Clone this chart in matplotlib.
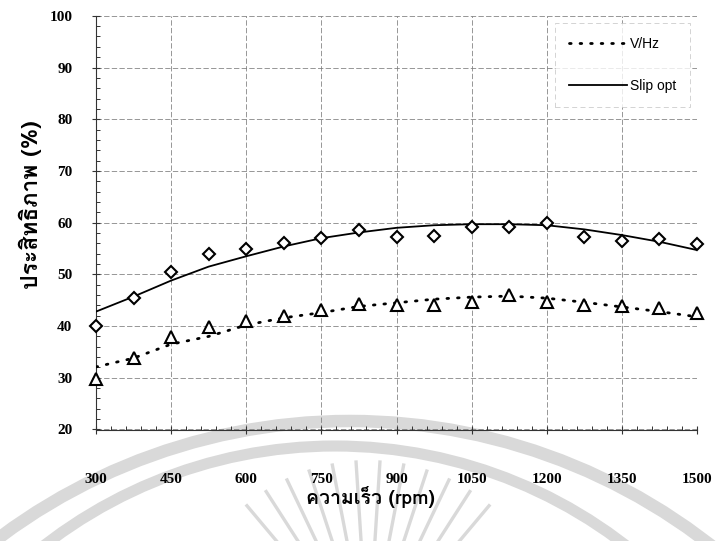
import matplotlib
matplotlib.use("Agg")
import matplotlib.pyplot as plt
import matplotlib.font_manager as fm
import matplotlib.transforms as mtransforms
from matplotlib.patches import Circle
from matplotlib.lines import Line2D
from matplotlib.ticker import MultipleLocator
from matplotlib.ft2font import FT2Font
import numpy as np

# ---- data -------------------------------------------------------------
rpm = [300, 375, 450, 525, 600, 675, 750, 825, 900,
       975, 1050, 1125, 1200, 1275, 1350, 1425, 1500]

# measured efficiency (%)
slip_eff = [40.0, 45.4, 50.5, 53.9, 54.9, 56.0, 57.1, 58.5, 57.3,
            57.5, 59.2, 59.1, 60.0, 57.2, 56.5, 56.8, 55.9]
vhz_eff = [29.8, 33.9, 37.8, 39.9, 40.9, 41.9, 43.1, 44.2, 44.0,
           44.1, 44.7, 46.0, 44.7, 44.1, 43.9, 43.4, 42.6]

# trend curves (%)
slip_trend = [42.8, 45.7, 48.8, 51.5, 53.5, 55.4, 57.0, 58.1, 59.0,
              59.5, 59.7, 59.7, 59.5, 58.7, 57.6, 56.3, 54.7]
vhz_trend = [32.1, 33.8, 36.5, 38.0, 40.2, 41.6, 42.6, 43.8, 44.5,
             45.2, 45.6, 45.8, 45.4, 44.6, 43.7, 42.8, 41.8]

x_ticks = [300, 450, 600, 750, 900, 1050, 1200, 1350, 1500]
y_ticks = [20, 30, 40, 50, 60, 70, 80, 90, 100]
series_names = ["V/Hz", "Slip opt"]
x_title = "ความเร็ว (rpm)"
y_title = "ประสิทธิภาพ (%)"


# ---- fonts ------------------------------------------------------------
def thai_family():
    best = None
    for f in fm.fontManager.ttflist:
        try:
            if 0x0E04 in FT2Font(f.fname).get_charmap():
                if str(f.weight) in ("bold", "700"):
                    return f.name
                best = best or f.name
        except Exception:
            continue
    return best


thai = thai_family()
thai_fams = ([thai] if thai else []) + ["Liberation Serif", "DejaVu Sans"]

W, H = 717, 541
fig = plt.figure(figsize=(W / 100, H / 100), dpi=100)
fig.patch.set_facecolor("white")

# pixel -> figure transform (origin top-left)
px = mtransforms.Affine2D().scale(1 / W, -1 / H).translate(0, 1) + fig.transFigure

# ---- light background emblem -----------------------------------------
wm = "#d9d9d9"
fig.patches.append(Circle((350, 1007), 586, fill=False, lw=9.0, ec=wm,
                          transform=px, zorder=0))
fig.patches.append(Circle((335, 921), 475, fill=False, lw=8.0, ec=wm,
                          transform=px, zorder=0))
cx, cy = 368, 650
for ang in np.linspace(50, 130, 12):
    a = np.deg2rad(ang)
    r0, r1 = 95, 190
    fig.lines.append(Line2D([cx + r0 * np.cos(a), cx + r1 * np.cos(a)],
                            [cy - r0 * np.sin(a), cy - r1 * np.sin(a)],
                            color=wm, lw=2.4, solid_capstyle="butt",
                            transform=px, zorder=0))

# ---- axes -------------------------------------------------------------
ax = fig.add_axes([96 / W, 1 - 429.5 / H, (697 - 96) / W, (429.5 - 15.8) / H])
ax.set_zorder(2)
ax.set_facecolor("none")
ax.set_xlim(300, 1500)
ax.set_ylim(20, 100)

grid_kw = dict(color="#7a7a7a", lw=0.55, linestyle=(0, (7, 3)))
for xv in x_ticks:
    ax.axvline(xv, zorder=1, **grid_kw)
for yv in y_ticks:
    ax.axhline(yv, zorder=1, **grid_kw)

for s in ["top", "right"]:
    ax.spines[s].set_visible(False)
for s in ["left", "bottom"]:
    ax.spines[s].set_color("#333333")
    ax.spines[s].set_linewidth(0.8)

ax.set_xticks(x_ticks)
ax.set_yticks(y_ticks)
ax.xaxis.set_minor_locator(MultipleLocator(30))
ax.yaxis.set_minor_locator(MultipleLocator(2))
ax.tick_params(which="major", direction="inout", length=6, width=0.8,
               color="#333333")
ax.tick_params(which="minor", direction="in", length=3, width=0.7,
               color="#333333")
ax.tick_params(axis="x", which="major", pad=28)
ax.tick_params(axis="y", which="major", pad=14)
tick_font = dict(family="Liberation Serif", weight="bold", size=11)
ax.set_xticklabels([str(v) for v in x_ticks], **tick_font)
ax.set_yticklabels([str(v) for v in y_ticks], **tick_font)

# ---- series -----------------------------------------------------------
ax.plot(rpm, slip_trend, color="black", lw=1.3, zorder=3)
ax.plot(rpm, vhz_trend, color="black", lw=2.0, zorder=3,
        linestyle=(0, (0.6, 3.2)), dash_capstyle="round")
ax.plot(rpm, slip_eff, linestyle="none", marker="D", ms=6.2, mew=1.5,
        mfc="white", mec="black", zorder=4, clip_on=False)
ax.plot(rpm, vhz_eff, linestyle="none", marker="^", ms=8, mew=1.5,
        mfc="white", mec="black", zorder=4, clip_on=False)

# ---- legend -----------------------------------------------------------
handles = [
    Line2D([], [], color="black", lw=2.0, linestyle=(0, (0.6, 3.2)),
           dash_capstyle="round"),
    Line2D([], [], color="black", lw=1.3),
]
leg = ax.legend(handles, series_names, loc="upper left",
                bbox_to_anchor=((555 - 96) / 601, (429.5 - 23) / 413.7),
                borderaxespad=0, fancybox=False, handlelength=4.2,
                handletextpad=0.2, labelspacing=2.0, borderpad=1.0,
                prop=dict(family="Liberation Sans", size=10))
frame = leg.get_frame()
frame.set_edgecolor("#c0c0c0")
frame.set_linestyle((0, (6, 4)))
frame.set_linewidth(0.6)
frame.set_facecolor("white")

# ---- titles -----------------------------------------------------------
fig.text(30 / W, 1 - 205 / H, y_title, rotation=90, ha="center",
         va="center", family=thai_fams, weight="bold", size=16.5)
fig.text(370 / W, 1 - 497 / H, x_title, ha="center", va="center",
         family=thai_fams, weight="bold", size=14)

fig.savefig("out.png", dpi=100)
